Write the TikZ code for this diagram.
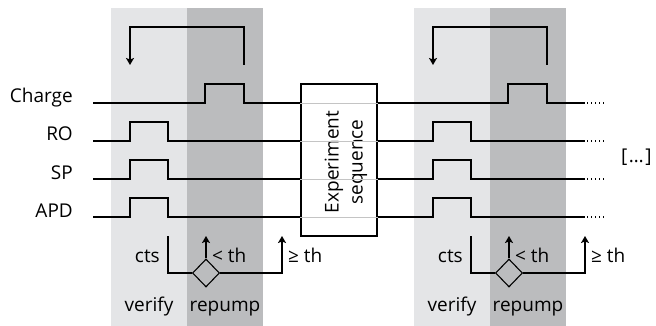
\documentclass[tikz,border=0pt]{standalone}
\usepackage{fontspec}
\setmainfont{Open Sans}
\usepackage{tikz}
\usetikzlibrary{positioning,arrows.meta,shapes.geometric}
\definecolor{verifycolor}{HTML}{E4E5E7}
\definecolor{repumpcolor}{HTML}{BBBCBE}
\definecolor{passcolor}{HTML}{C4C4C4}

\begin{document}
\begin{tikzpicture}[x=1pt, y=-1pt,
    sig/.style={line width=1.1pt},
    flow/.style={line width=1.1pt, -{Stealth[length=7pt, width=8pt, inset=1.5pt]}},
    lbl/.style={font=\fontsize{19}{24}\selectfont, inner sep=0pt},
    decision/.style={draw, diamond, line width=1.1pt, minimum width=27pt, minimum height=28pt, inner sep=0pt},
    seqbox/.style={draw, line width=1.1pt, minimum width=76pt, minimum height=152pt},
  ]
  \useasboundingbox (0,0) rectangle (656,326);

  % verify / repump phases, two rounds
  \foreach \s/\n in {0/a,303/b}{
    \begin{scope}[xshift=\s pt]
      \fill[verifycolor] (111,8) rectangle (187,326);
      \fill[repumpcolor] (187,8) rectangle (263,326);
      \node[lbl, anchor=base] (verify\n) at (149,311) {verify};
      \node[lbl, anchor=base] (repump\n) at (225,311) {repump};
      \coordinate (loopstart\n) at (244,65);
      \coordinate (loopend\n) at (130,65);
      \draw[flow] (loopstart\n) |- (130,27) -- (loopend\n);
      \node[decision] (dec\n) at (206,273) {};
      \coordinate (cts\n) at (168,236);
      \coordinate (low\n) at (206,236);
      \coordinate (high\n) at (282,236);
      \draw[sig] (cts\n) |- (dec\n.west);
      \draw[flow] (dec\n.north) -- (low\n);
      \draw[flow] (dec\n.east) -| (high\n);
      \node[lbl, anchor=base east] (ctslbl\n) at (160,262) {cts};
      \node[lbl, anchor=base west] (lowlbl\n) at (212,262) {< th};
      \node[lbl, anchor=base west] (highlbl\n) at (288,262) {≥ th};
    \end{scope}
  }

  \node[seqbox] (seq) at (339,160) {};
  \node[lbl, rotate=90, align=center] (seqlbl) at (346,162) {Experiment\\sequence};

  % signal names
  \foreach \y/\name in {103/Charge,141/RO,179/SP,217/APD}{
    \node[lbl, anchor=base east] (\name) at (73,\y) {\name};
    \draw[passcolor, line width=0.8pt] (seq.west |- 0,\y) -- (seq.east |- 0,\y);
    \draw[sig, dash pattern=on 1.3pt off 2.7pt] (587,\y) -- (604,\y);
  }

  % waveforms
  \draw[sig] (93,103) -| (205,84) -| (244,103) -- (seq.west |- 0,103);
  \draw[sig] (seq.east |- 0,103) -| (508,84) -| (547,103) -- (585,103);
  \foreach \y in {141,179,217}{
    \draw[sig] (93,\y) -| (130,\y-19) -| (168,\y) -- (seq.west |- 0,\y);
    \draw[sig] (seq.east |- 0,\y) -| (433,\y-19) -| (471,\y) -- (585,\y);
  }

  \node[lbl, anchor=base west] (more) at (621,163) {[\kern1.5pt…\kern1.5pt]};
\end{tikzpicture}
\end{document}
